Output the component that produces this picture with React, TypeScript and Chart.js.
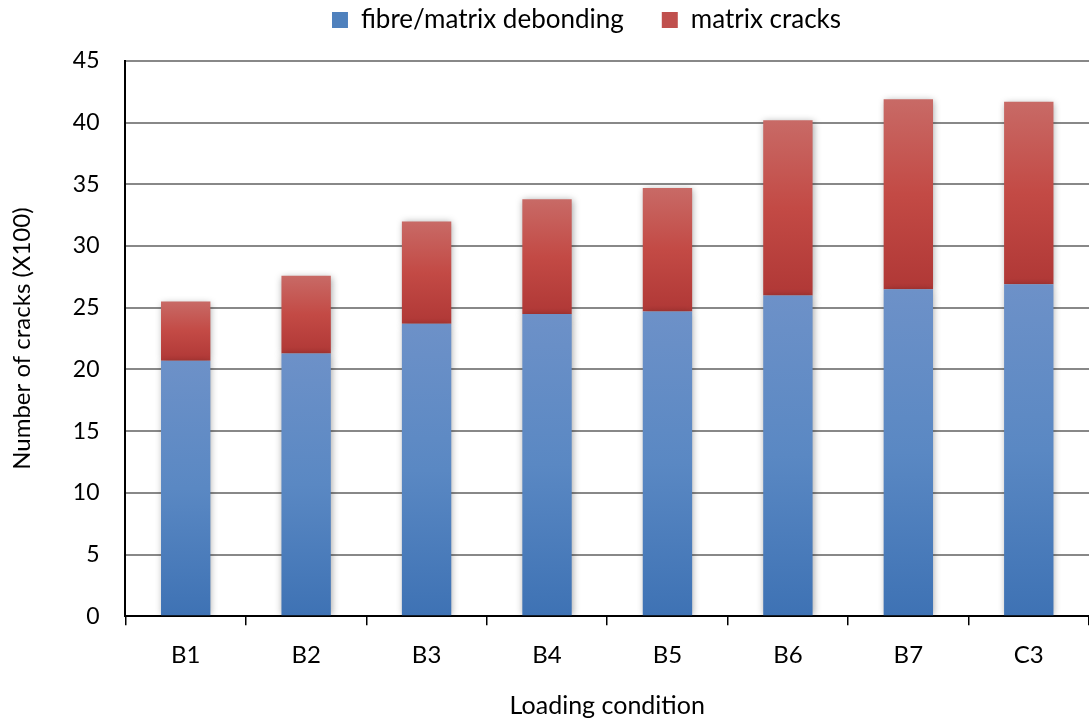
import React, { useEffect, useRef } from "react";
import { Chart, registerables } from "chart.js";

Chart.register(...registerables);

const categories = ["B1", "B2", "B3", "B4", "B5", "B6", "B7", "C3"];
const debonding = [20.7, 21.3, 23.7, 24.5, 24.7, 26.0, 26.5, 26.9];
const matrixCracks = [4.8, 6.3, 8.3, 9.3, 10.0, 14.2, 15.4, 14.8];
const seriesNames = ["fibre/matrix debonding", "matrix cracks"];
const yTicks = [0, 5, 10, 15, 20, 25, 30, 35, 40, 45];

const blueStops = ["#6d91c8", "#5a88c3", "#3e72b4"];
const redStops = ["#c86a66", "#c34a45", "#b03836"];
const legendColors = ["#4f81bd", "#c0504d"];

const FONT = "Lato, 'Open Sans', 'Liberation Sans', sans-serif";

export default function App() {
  const ref = useRef<HTMLCanvasElement | null>(null);

  useEffect(() => {
    document.body.style.margin = "0";
    const canvas = ref.current;
    if (!canvas) return;

    const makeGrad = (ctx: any, dsIndex: number) => {
      const chart = ctx.chart;
      const y = chart.scales?.y;
      const i = ctx.dataIndex;
      const stops = dsIndex === 0 ? blueStops : redStops;
      if (!y || i === undefined || !chart.chartArea) return stops[1];
      const base = dsIndex === 0 ? 0 : debonding[i];
      const top = dsIndex === 0 ? debonding[i] : debonding[i] + matrixCracks[i];
      const yTop = y.getPixelForValue(top);
      const yBase = y.getPixelForValue(base);
      const g = chart.ctx.createLinearGradient(0, yTop, 0, yBase);
      g.addColorStop(0, stops[0]);
      g.addColorStop(0.5, stops[1]);
      g.addColorStop(1, stops[2]);
      return g;
    };

    const shadowPlugin = {
      id: "barShadow",
      beforeDatasetsDraw(chart: any) {
        const c = chart.ctx;
        c.save();
        c.shadowColor = "rgba(0,0,0,0.35)";
        c.shadowBlur = 7;
        c.shadowOffsetX = 1;
        c.shadowOffsetY = 1;
      },
      afterDatasetsDraw(chart: any) {
        chart.ctx.restore();
      },
    };

    const legendTweak = {
      id: "legendTweak",
      afterInit(chart: any) {
        const lg = chart.legend;
        if (!lg) return;
        const fit = lg.fit;
        lg.fit = function (this: any) {
          fit.call(this);
          this.height += 18;
        };
      },
      afterLayout(chart: any) {
        if (chart.legend) chart.legend.left += 76;
      },
    };

    const chart = new Chart(canvas, {
      type: "bar",
      data: {
        labels: categories,
        datasets: [
          {
            label: seriesNames[0],
            data: debonding,
            backgroundColor: (ctx: any) => makeGrad(ctx, 0),
            borderWidth: 0,
            barPercentage: 0.41,
            categoryPercentage: 1,
          },
          {
            label: seriesNames[1],
            data: matrixCracks,
            backgroundColor: (ctx: any) => makeGrad(ctx, 1),
            borderWidth: 0,
            barPercentage: 0.41,
            categoryPercentage: 1,
          },
        ],
      },
      plugins: [shadowPlugin, legendTweak],
      options: {
        animation: false,
        responsive: false,
        layout: { padding: { left: 8, right: 0, top: -31, bottom: -1 } },
        plugins: {
          tooltip: { enabled: false },
          legend: {
            position: "top",
            labels: {
              font: { family: FONT, size: 26 },
              color: "#000",
              boxWidth: 16,
              boxHeight: 16,
              padding: 38,
              generateLabels: (ch: any) =>
                Chart.defaults.plugins.legend.labels
                  .generateLabels(ch)
                  .map((l: any, i: number) => ({
                    ...l,
                    fillStyle: legendColors[i],
                    strokeStyle: legendColors[i],
                    lineWidth: 0,
                  })),
            },
          },
        },
        scales: {
          x: {
            stacked: true,
            offset: true,
            grid: {
              display: true,
              offset: true,
              drawOnChartArea: false,
              drawTicks: true,
              tickLength: 9,
              color: "#000",
              lineWidth: 1.5,
            },
            border: { color: "#000", width: 2 },
            ticks: {
              font: { family: FONT, size: 24 },
              color: "#000",
              padding: 16,
            },
            title: {
              display: true,
              text: "Loading condition",
              font: { family: FONT, size: 25 },
              color: "#000",
              padding: { top: 5, bottom: 0 },
            },
          },
          y: {
            stacked: true,
            min: 0,
            max: 45,
            afterBuildTicks: (scale: any) => {
              scale.ticks = yTicks.map((v) => ({ value: v }));
            },
            grid: {
              color: "#888888",
              lineWidth: 2,
              drawTicks: false,
            },
            border: { color: "#000", width: 2 },
            ticks: {
              font: { family: FONT, size: 23 },
              color: "#000",
              padding: 26,
            },
            title: {
              display: true,
              text: "Number of cracks (X100)",
              font: { family: FONT, size: 24 },
              color: "#000",
              padding: { top: 0, bottom: 10 },
            },
          },
        },
      },
    });

    return () => chart.destroy();
  }, []);

  return (
    <div style={{ width: 1089, height: 720 }}>
      <canvas ref={ref} width={1089} height={720} style={{ display: "block" }} />
    </div>
  );
}
